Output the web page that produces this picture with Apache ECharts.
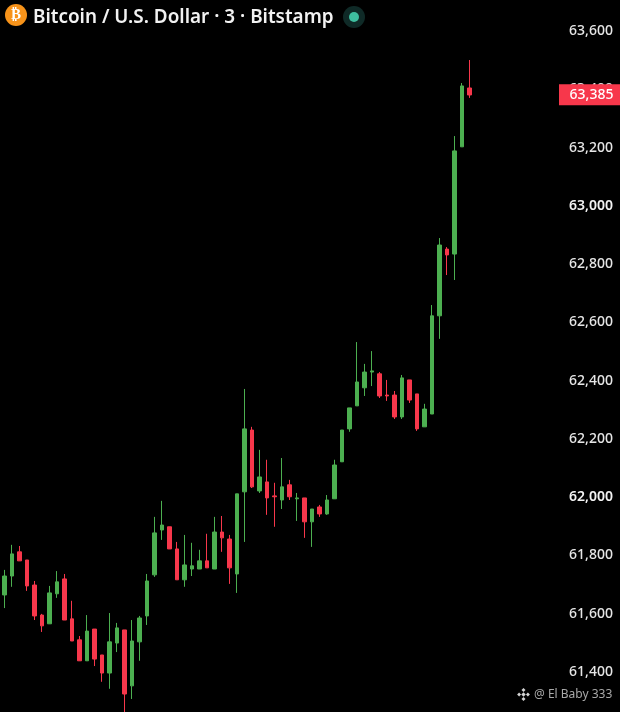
<!DOCTYPE html>
<html>
<head>
<meta charset="utf-8">
<style>html,body{margin:0;padding:0;background:#000}#c{width:620px;height:712px}</style>
<script src="https://cdn.jsdelivr.net/npm/echarts@6/dist/echarts.min.js"></script>
</head>
<body>
<div id="c"></div>
<script>
const titleText = 'Bitcoin / U.S. Dollar · 3 · Bitstamp';
const watermark = '@ El Baby 333';
const lastPrice = 63385;
const opens = [61661,61726,61809,61781,61695,61592,61562,61665,61716,61579,61507,61435,61544,61455,61393,61496,61541,61349,61500,61589,61730,61884,61895,61819,61713,61750,61750,61778,61750,61877,61853,61733,62015,62227,62018,62049,62001,61987,62039,61991,61994,61912,61963,61939,61991,62118,62231,62310,62372,62426,62420,62347,62347,62272,62399,62351,62238,62282,62619,62848,62831,63199,63401];
const closes = [61726,61802,61778,61692,61589,61555,61668,61706,61575,61503,61435,61537,61441,61393,61500,61548,61321,61503,61582,61709,61874,61901,61819,61713,61764,61761,61778,61754,61877,61857,61754,62008,62231,62032,62066,61994,61998,62032,61998,61994,61912,61956,61939,61987,62107,62227,62303,62392,62426,62430,62344,62344,62272,62406,62330,62231,62299,62619,62862,62828,63185,63408,63377];
const lows = [61616,61689,61778,61675,61575,61534,61562,61651,61575,61503,61435,61435,61417,61363,61339,61465,61255,61304,61435,61558,61723,61850,61819,61713,61689,61726,61750,61754,61750,61809,61699,61668,61843,62028,62011,61936,61895,61956,61987,61915,61857,61826,61929,61936,61991,62118,62221,62310,62344,62378,62337,62327,62265,62265,62320,62224,62238,62282,62540,62759,62742,63199,63367];
const highs = [61747,61833,61829,61781,61709,61596,61692,61743,61733,61641,61520,61592,61544,61455,61599,61565,61541,61575,61589,61733,61929,61984,61895,61843,61867,61840,61816,61871,61929,61932,61867,62008,62368,62238,62159,62125,62046,62131,62056,62011,61994,61956,61970,62004,62125,62227,62303,62529,62454,62498,62426,62399,62361,62416,62399,62351,62317,62656,62886,62855,63236,63418,63497];
const barNumbers = opens.map((_, i) => String(i + 1));
const candles = opens.map((o, i) => [o, closes[i], lows[i], highs[i]]);

const UP = '#4CAF50', DOWN = '#F7374B';
const chart = echarts.init(document.getElementById('c'), null, {renderer:'canvas', width:620, height:712});
const gy = 694.5;
const diamond = (x, y, s) => ({type:'rect', x, y, rotation:Math.PI/4, originX:0, originY:0, shape:{x:-s/2,y:-s/2,width:s,height:s}, style:{fill:'#d4d4d4'}, silent:true});
chart.setOption({
  animation:false,
  backgroundColor:'#000',
  grid:{left:0.55, width:472.5, top:-28.28, height:757.56, outerBoundsMode:'none', containLabel:false},
  xAxis:{type:'category', data:barNumbers, show:false, boundaryGap:true},
  yAxis:{type:'value', position:'right', min:61200, max:63800, interval:200, scale:true,
    axisLine:{show:false}, axisTick:{show:false}, splitLine:{show:false},
    axisLabel:{margin:96, color:'#e6e6e6', fontFamily:'"Noto Sans"', fontSize:14, fontWeight:500, padding:[2,0,0,0],
      formatter:v => {
        const s = v.toLocaleString('en-US');
        return v % 1000 === 0 ? '{b|'+s+'}' : s;
      },
      rich:{b:{fontFamily:'"Noto Sans"', fontSize:14, fontWeight:600, color:'#f2f2f2'}}
    }
  },
  series:[{
    type:'candlestick', data:candles, barWidth:4, clip:false,
    itemStyle:{color:UP, color0:DOWN, borderColor:UP, borderColor0:DOWN, borderWidth:1},
    markPoint:{
      silent:true, animation:false,
      data:[{coord:[62, lastPrice], symbol:'rect', symbolSize:[61,21], symbolOffset:[120.2,2],
        itemStyle:{color:DOWN},
        label:{show:true, position:'inside', offset:[2,0.5], formatter:lastPrice.toLocaleString('en-US'), color:'#fff', fontFamily:'"Noto Sans"', fontSize:14, fontWeight:500}}]
    }
  }],
  graphic:[
    {type:'circle', shape:{cx:16,cy:15,r:11}, style:{fill:'#F7931A'}, silent:true},
    {type:'text', x:16, y:15, style:{text:'₿', fill:'#fff', font:'700 15px "DejaVu Sans"', textAlign:'center', textVerticalAlign:'middle'}, silent:true},
    {type:'text', x:33, y:18, style:{text:titleText, fill:'#f2f2f2', font:'600 18.9px "Noto Sans"', textAlign:'left', textVerticalAlign:'middle'}, silent:true},
    {type:'circle', shape:{cx:354,cy:17,r:11}, style:{fill:'#0f2a27'}, silent:true},
    {type:'circle', shape:{cx:354,cy:17,r:5}, style:{fill:'#3EBE9F'}, silent:true},
    diamond(523.5,gy,3.2), diamond(523.5,gy-4.4,2.8), diamond(523.5,gy+4.4,2.8), diamond(519.1,gy,2.8), diamond(527.9,gy,2.8),
    {type:'text', x:534, y:gy, style:{text:watermark, fill:'#a8a8a8', font:'400 12px "Noto Sans"', textAlign:'left', textVerticalAlign:'middle'}, silent:true}
  ]
});
</script>
</body>
</html>
